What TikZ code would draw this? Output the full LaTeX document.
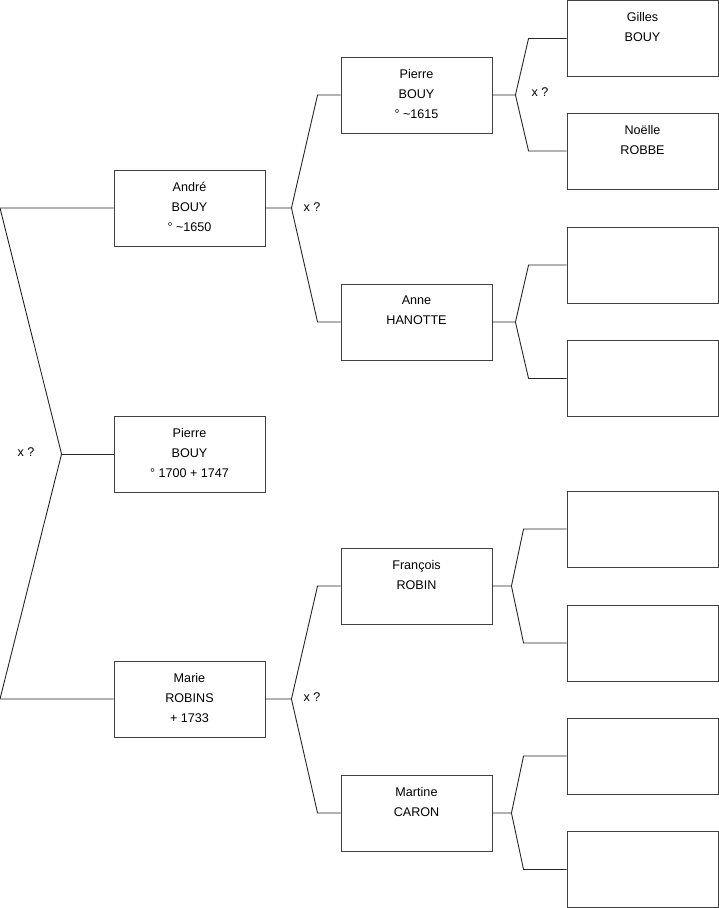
\documentclass[tikz,border=0pt]{standalone}
\usepackage{fontspec}
\setmainfont{Liberation Sans}
\usetikzlibrary{positioning,calc}

\begin{document}
\begin{tikzpicture}[
  x=1pt, y=-1pt,
  person/.style={draw=black!75, line width=0.9pt, minimum width=151pt, minimum height=76pt, inner sep=0pt},
  who/.style={font=\fontsize{12.6}{20}\selectfont, align=center, inner sep=0pt, anchor=north},
  link/.style={draw=black!85, line width=0.9pt},
  xq/.style={font=\fontsize{12.6}{14}\selectfont, inner sep=0pt}
]
\useasboundingbox (0,0) rectangle (719,908);
% generation 1 and 2
\node[person] (p1) at (189.5,454) {};
\node[person] (p2) at (189.5,208) {};
\node[person] (p3) at (189.5,699) {};
\node[who, below=12.5pt of p1.north] (t1) {Pierre\\BOUY\\° 1700 + 1747};
\node[who, below=12.5pt of p2.north] (t2) {André\\BOUY\\° \textasciitilde1650};
\node[who, below=12.5pt of p3.north] (t3) {Marie\\ROBINS\\+ 1733};
% generation 3
\node[person] (p4) at (416.5,95) {};
\node[person] (p5) at (416.5,322) {};
\node[person] (p6) at (416.5,586) {};
\node[person] (p7) at (416.5,813) {};
\node[who, below=12.5pt of p4.north] (t4) {Pierre\\BOUY\\° \textasciitilde1615};
\node[who, below=12.5pt of p5.north] (t5) {Anne\\HANOTTE};
\node[who, below=12.5pt of p6.north] (t6) {François\\ROBIN};
\node[who, below=12.5pt of p7.north] (t7) {Martine\\CARON};
% generation 4
\foreach \n/\y in {8/38.5,9/151,10/265,11/378.5,12/529,13/643,14/756,15/869.5}
  \node[person] (p\n) at (642.5,\y) {};
\node[who, below=12.5pt of p8.north] (t8) {Gilles\\BOUY};
\node[who, below=12.5pt of p9.north] (t9) {Noëlle\\ROBBE};
% brackets
\coordinate (j1) at ($(p1.west)+(-52,0)$);
\draw[link] (p1.west) -- (j1);
\draw[link] (p2.west) -- (0,208) -- (j1) -- (0,699) -- (p3.west);
\foreach \c/\f/\m in {2/4/5,3/6/7}{
  \coordinate (j\c) at ($(p\c.east)+(26,0)$);
  \draw[link] (p\c.east) -- (j\c) -- ($(p\f.west)+(-23,0)$) -- (p\f.west);
  \draw[link] (j\c) -- ($(p\m.west)+(-23,0)$) -- (p\m.west);
}
\foreach \c/\f/\m/\d/\e in {4/8/9/23/38,5/10/11/23/38,6/12/13/19/43,7/14/15/19/43}{
  \coordinate (j\c) at ($(p\c.east)+(\d,0)$);
  \draw[link] (p\c.east) -- (j\c) -- ($(p\f.west)+(-\e,0)$) -- (p\f.west);
  \draw[link] (j\c) -- ($(p\m.west)+(-\e,0)$) -- (p\m.west);
}
% marriage marks
\node[xq] (x1) at (26,452) {x ?};
\node[xq] (x2) at (312,207) {x ?};
\node[xq] (x3) at (312,697) {x ?};
\node[xq] (x4) at (540,92) {x ?};
\end{tikzpicture}
\end{document}
